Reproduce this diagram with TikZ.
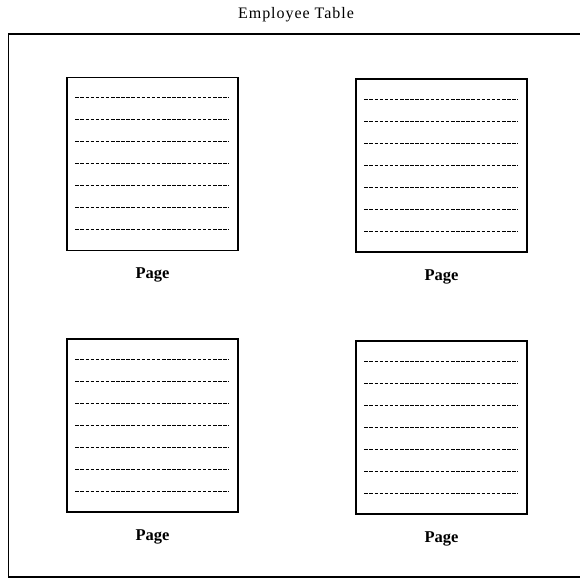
\documentclass[tikz,border=0pt]{standalone}
\usepackage{fontspec}
\setmainfont{Liberation Serif}
\newfontfamily\titlefont[LetterSpace=6]{Liberation Serif}
\begin{document}
\begin{tikzpicture}[x=1pt,y=-1pt,
  pagebox/.style={draw, line width=1.3pt, minimum width=171pt, minimum height=173pt, inner sep=0pt},
  dline/.style={line width=1pt, dash pattern=on 3.5pt off 1.6pt},
  pagelabel/.style={font=\fontsize{16.5}{19}\selectfont\bfseries, inner sep=0pt},
  frameline/.style={line width=1.3pt}]
\useasboundingbox (0,0) rectangle (580,579);
\node[font=\titlefont\fontsize{16}{19}\selectfont, inner sep=0pt] (title) at (296,15) {Employee Table};
\draw[frameline] (580,34) -- (8.5,34) -- (8.5,577) -- (580,577);
\foreach \n/\cx/\cy/\ly in {p1/152.5/164/275, p2/441.5/165.5/277, p3/152.5/425.5/537, p4/441.5/427.5/539}{
  \node[pagebox] (\n) at (\cx,\cy) {};
  \foreach \k in {1,...,7}{
    \draw[dline] ([xshift=9pt, yshift={-(22*\k)+1pt}]\n.north west) -- ([xshift=-10pt, yshift={-(22*\k)+1pt}]\n.north east);
  }
  \node[pagelabel] (\n l) at (\cx,\ly) {Page};
}
\end{tikzpicture}
\end{document}
